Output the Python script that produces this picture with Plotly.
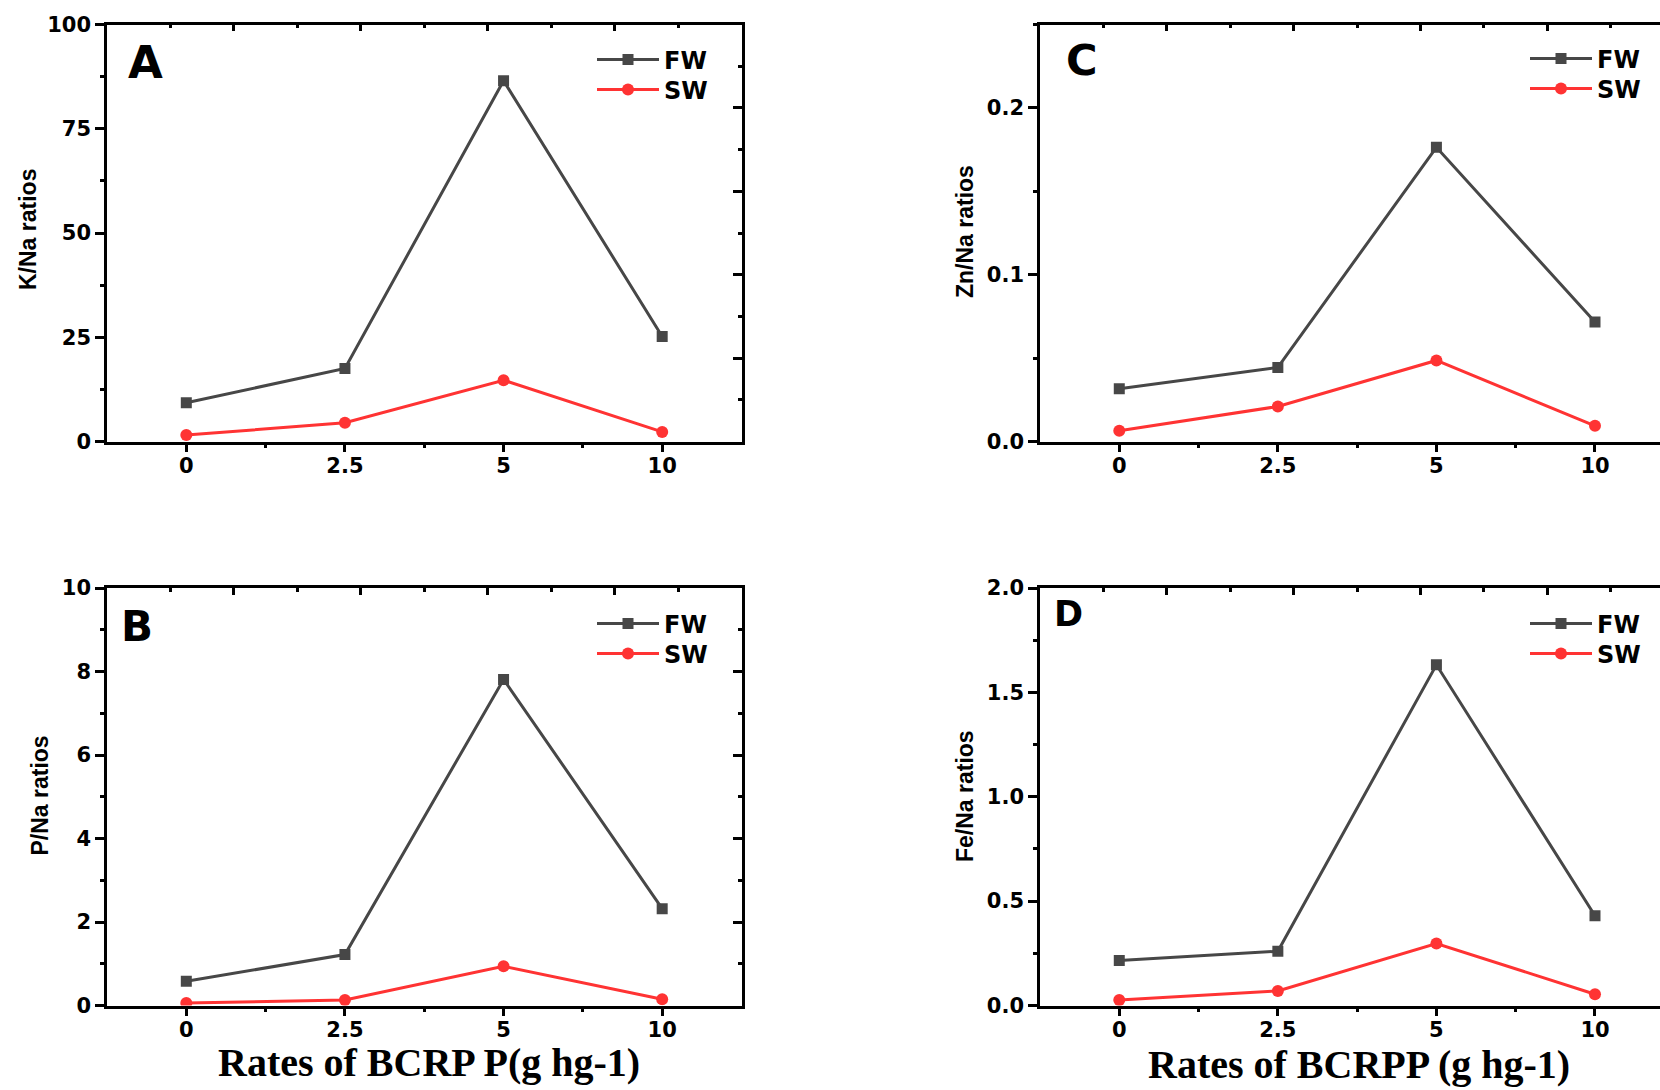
import plotly.graph_objects as go

# ---------------- data ----------------
rates = ["0", "2.5", "5", "10"]
series_names = ["FW", "SW"]

kna_fw = [9.3, 17.5, 86.5, 25.2]
kna_sw = [1.55, 4.5, 14.7, 2.3]

pna_fw = [0.58, 1.22, 7.81, 2.32]
pna_sw = [0.06, 0.13, 0.94, 0.15]

znna_fw = [0.0316, 0.0444, 0.1764, 0.0716]
znna_sw = [0.0064, 0.0210, 0.0486, 0.0094]

fena_fw = [0.216, 0.260, 1.632, 0.430]
fena_sw = [0.026, 0.070, 0.297, 0.054]

panel_letters = ["A", "B", "C", "D"]
y_titles = ["K/Na ratios", "P/Na ratios", "Zn/Na ratios", "Fe/Na ratios"]
x_titles = ["Rates of BCRP P(g hg-1)", "Rates of BCRPP (g hg-1)"]

# ---------------- styling ----------------
W, H = 1660, 1090
FW_COLOR = "#474747"
SW_COLOR = "#FF3333"
TICKFONT = dict(family="DejaVu Sans", size=21, color="black", weight="bold")
LEGFONT = dict(family="DejaVu Sans", size=24, color="black", weight="bold")

def px_x(v):
    return v / W

def px_y(v):
    return 1 - v / H

xidx = list(range(len(rates)))

# panel geometry (pixels)
left_x = (107, 741.5)
right_x = (1040, W)
top_y = (24.5, 441.5)
bot_y = (588, 1005.5)

panels = [
    ("A", left_x, top_y, kna_fw, kna_sw, [0, 100], [0, 25, 50, 75, 100], [12.5, 37.5, 62.5, 87.5],
     [20, 40, 60, 80], [10, 30, 50, 70, 90], [-0.5, 3.5]),
    ("B", left_x, bot_y, pna_fw, pna_sw, [0, 10], [0, 2, 4, 6, 8, 10], [1, 3, 5, 7, 9],
     [2, 4, 6, 8], [1, 3, 5, 7, 9], [-0.5, 3.5]),
    ("C", right_x, top_y, znna_fw, znna_sw, [0, 0.25], [0, 0.1, 0.2], [0.05, 0.15, 0.25],
     None, None, [-0.5, 3.41]),
    ("D", right_x, bot_y, fena_fw, fena_sw, [0, 2], [0, 0.5, 1.0, 1.5, 2.0], [0.25, 0.75, 1.25, 1.75],
     None, None, [-0.5, 3.41]),
]
ytick_text = {
    "A": ["0", "25", "50", "75", "100"],
    "B": ["0", "2", "4", "6", "8", "10"],
    "C": ["0.0", "0.1", "0.2"],
    "D": ["0.0", "0.5", "1.0", "1.5", "2.0"],
}

# legend rows: (x of legend left, y centre FW, y centre SW) in pixels
legend_pos = {
    "A": (592, 60, 90),
    "B": (592, 624, 654),
    "C": (1525, 59, 89),
    "D": (1525, 624, 654),
}

fig = go.Figure()
layout = {}
leg_counter = 0

for i, (name, xd, yd, fw, sw, yr, ymaj, ymin, rmaj, rmin, xr) in enumerate(panels):
    n = i + 1
    xa = "x" if n == 1 else f"x{n}"
    ya = "y" if n == 1 else f"y{n}"
    xkey = "xaxis" if n == 1 else f"xaxis{n}"
    ykey = "yaxis" if n == 1 else f"yaxis{n}"

    lx, ly_fw, ly_sw = legend_pos[name]
    leg_fw = "legend" if leg_counter == 0 else f"legend{leg_counter + 1}"
    leg_sw = f"legend{leg_counter + 2}"
    leg_counter += 2

    fig.add_trace(go.Scatter(x=xidx, y=fw, name=series_names[0], mode="lines+markers",
                             line=dict(color=FW_COLOR, width=3),
                             marker=dict(symbol="square", size=11, color=FW_COLOR),
                             xaxis=xa, yaxis=ya, legend=leg_fw))
    fig.add_trace(go.Scatter(x=xidx, y=sw, name=series_names[1], mode="lines+markers",
                             line=dict(color=SW_COLOR, width=3),
                             marker=dict(symbol="circle", size=12, color=SW_COLOR),
                             xaxis=xa, yaxis=ya, legend=leg_sw))

    for lg, ly in ((leg_fw, ly_fw), (leg_sw, ly_sw)):
        layout[lg] = dict(x=px_x(lx), y=px_y(ly), xanchor="left", yanchor="middle",
                          xref="paper", yref="paper", font=LEGFONT,
                          bgcolor="rgba(255,255,255,0)", borderwidth=0, itemwidth=62,
                          tracegroupgap=0)

    xdom = [px_x(xd[0]), min(1.0, px_x(xd[1]))]
    ydom = [px_y(yd[1]), px_y(yd[0])]

    layout[xkey] = dict(domain=xdom, range=xr, anchor=ya, tickmode="array", tickvals=xidx,
                        ticktext=rates, ticks="outside", ticklen=8, tickwidth=2.5,
                        tickcolor="black", showline=True, linewidth=2.5, linecolor="black",
                        showgrid=False, zeroline=False, tickfont=TICKFONT,
                        ticklabelstandoff=-4,
                        minor=dict(tickmode="array", tickvals=[0.5, 1.5, 2.5], ticks="outside",
                                   ticklen=4, tickwidth=2.5, tickcolor="black", showgrid=False))
    layout[ykey] = dict(domain=ydom, range=yr, anchor=xa, tickmode="array", tickvals=ymaj,
                        ticktext=ytick_text[name], ticks="outside", ticklen=9, tickwidth=2.5,
                        tickcolor="black", showline=True, linewidth=2.5, linecolor="black",
                        showgrid=False, zeroline=False, tickfont=TICKFONT,
                        minor=dict(tickmode="array", tickvals=ymin, ticks="outside",
                                   ticklen=4, tickwidth=2.5, tickcolor="black", showgrid=False))

    # top mirrored axis (inside ticks)
    tn = n + 4
    txa = f"x{tn}"
    layout[f"xaxis{tn}"] = dict(overlaying=xa, side="top", anchor=ya, range=xr,
                                tickmode="array", tickvals=[0.3, 1.1, 1.9, 2.7],
                                ticks="inside", ticklen=7, tickwidth=2.5, tickcolor="black",
                                showticklabels=False, showline=True, linewidth=2.5,
                                linecolor="black", showgrid=False, zeroline=False,
                                minor=dict(tickmode="array", tickvals=[-0.1, 0.7, 1.5, 2.3, 3.1],
                                           ticks="inside", ticklen=4, tickwidth=2.5,
                                           tickcolor="black", showgrid=False))
    fig.add_trace(go.Scatter(x=[None], y=[None], xaxis=txa, yaxis=ya, showlegend=False,
                             hoverinfo="skip"))
    if rmaj is not None:
        rn = n + 8
        rya = f"y{rn}"
        layout[f"yaxis{rn}"] = dict(overlaying=ya, side="right", anchor=xa, range=yr,
                                    tickmode="array", tickvals=rmaj, ticks="inside",
                                    ticklen=9, tickwidth=2.5, tickcolor="black",
                                    showticklabels=False, showline=True, linewidth=2.5,
                                    linecolor="black", showgrid=False, zeroline=False,
                                    minor=dict(tickmode="array", tickvals=rmin, ticks="inside",
                                               ticklen=4, tickwidth=2.5, tickcolor="black",
                                               showgrid=False))
        fig.add_trace(go.Scatter(x=[None], y=[None], xaxis=xa, yaxis=rya, showlegend=False,
                                 hoverinfo="skip"))

annotations = []
letter_pos = {"A": (145, 62, 45), "B": (137, 626, 42), "C": (1082, 60, 43), "D": (1068, 614, 35)}
for name, (cx, cy, sz) in letter_pos.items():
    annotations.append(dict(text=name, x=px_x(cx), y=px_y(cy), xref="paper", yref="paper",
                            showarrow=False, xanchor="center", yanchor="middle",
                            font=dict(family="DejaVu Sans", size=sz, color="black", weight="bold")))

ytitle_pos = [(28, 230), (39.5, 796), (965, 232), (965, 796)]
for t, (cx, cy) in zip(y_titles, ytitle_pos):
    annotations.append(dict(text=t, x=px_x(cx), y=px_y(cy), xref="paper", yref="paper",
                            showarrow=False, textangle=-90, xanchor="center", yanchor="middle",
                            font=dict(family="Liberation Sans", size=23, color="black",
                                      weight="bold")))

xtitle_pos = [(429, 1062), (1359, 1064)]
for t, (cx, cy) in zip(x_titles, xtitle_pos):
    annotations.append(dict(text=t, x=px_x(cx), y=px_y(cy), xref="paper", yref="paper",
                            showarrow=False, xanchor="center", yanchor="middle",
                            font=dict(family="Liberation Serif", size=40, color="black",
                                      weight="bold")))

fig.update_layout(width=W, height=H, autosize=False,
                  margin=dict(l=0, r=0, t=0, b=0, pad=0, autoexpand=False),
                  paper_bgcolor="white", plot_bgcolor="white",
                  annotations=annotations, showlegend=True, **layout)

fig.write_html("out.html",
               config={"displayModeBar": False},
               post_script="var d=document.getElementById('{plot_id}');"
                           "d.style.position='fixed';d.style.top='0px';d.style.left='0px';"
                           "document.body.style.margin='0px';"
                           "document.body.style.overflow='hidden';")
